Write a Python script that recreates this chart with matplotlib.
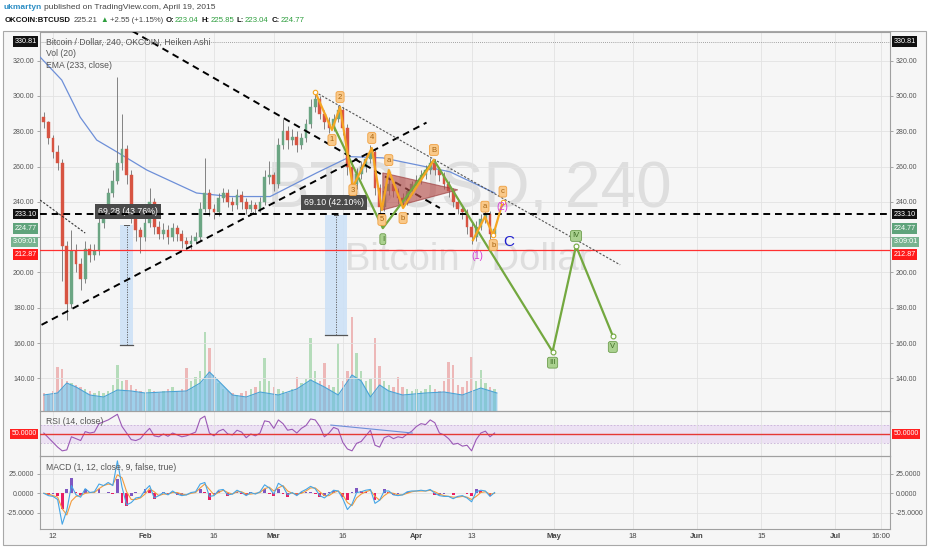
import numpy as np
import matplotlib
matplotlib.use("Agg")
import matplotlib.pyplot as plt
import matplotlib.transforms as mtransforms
from matplotlib.patches import Rectangle, Polygon

plt.rcParams['font.family'] = ['Liberation Sans', 'DejaVu Sans']

W, H = 932, 550
BG = '#f6f6f6'

# ---- data, x = day number (Jan 1 2015 = 0), one bar per day ----
first_day = 9
first_open = 288
close = [285, 276, 268, 262, 215, 182, 212, 205, 196, 213,
         210, 212, 228, 234, 245, 252, 262, 270, 255, 232,
         224, 220, 228, 240, 226, 222, 224, 220, 225, 222,
         218, 216, 218, 220, 236, 245, 236, 234, 242, 245,
         240, 238, 244, 240, 236, 238, 236, 240, 254, 255,
         250, 272, 280, 275, 277, 272, 276, 284, 294, 298,
         290, 285, 282, 287, 292, 282, 260, 250, 256, 260,
         264, 268, 248, 237, 246, 250, 246, 242, 240, 246,
         250, 252, 255, 258, 262, 258, 255, 250, 246, 240,
         236, 234, 226, 220, 226, 230, 233, 222, 224.77]
high = [291, 286, 278, 272, 264, 218, 224, 216, 208, 218,
        216, 216, 231, 237, 248, 258, 311, 290, 272, 258,
        234, 226, 231, 248, 242, 229, 228, 227, 228, 227,
        224, 220, 221, 223, 240, 265, 247, 239, 245, 248,
        247, 243, 247, 246, 242, 241, 240, 243, 258, 263,
        257, 276, 287, 283, 281, 280, 279, 287, 298, 303,
        300, 292, 288, 290, 295, 294, 284, 262, 259, 263,
        267, 272, 270, 250, 249, 254, 252, 248, 245, 248,
        252, 255, 258, 261, 265, 264, 260, 257, 252, 248,
        242, 238, 236, 228, 229, 233, 236, 235, 226]
low = [282, 273, 265, 258, 195, 173, 180, 200, 190, 194,
       206, 207, 210, 225, 232, 243, 250, 258, 250, 228,
       218, 211, 218, 226, 222, 219, 219, 216, 218, 218,
       214, 213, 213, 216, 218, 234, 232, 230, 232, 240,
       237, 235, 236, 236, 233, 234, 233, 234, 238, 250,
       246, 248, 270, 270, 272, 268, 270, 274, 282, 291,
       287, 281, 279, 280, 285, 278, 255, 245, 247, 253,
       257, 262, 244, 233, 235, 244, 243, 239, 237, 238,
       244, 248, 250, 253, 256, 255, 252, 247, 243, 237,
       233, 230, 222, 216, 218, 224, 228, 219, 221]
volume = [18, 16, 20, 44, 42, 30, 28, 26, 24, 22,
          20, 18, 20, 18, 20, 26, 46, 30, 31, 26,
          22, 20, 18, 22, 20, 18, 20, 22, 24, 20,
          22, 43, 30, 34, 40, 79, 63, 36, 28, 22,
          20, 18, 16, 18, 20, 22, 24, 30, 53, 30,
          24, 22, 20, 18, 22, 34, 28, 32, 73, 40,
          30, 48, 26, 24, 68, 30, 40, 94, 58, 40,
          30, 32, 73, 45, 30, 26, 24, 34, 24, 22,
          20, 22, 20, 22, 26, 22, 20, 30, 49, 46,
          26, 24, 30, 54, 30, 41, 28, 24, 22]
rsi = [52, 42, 32, 22, 14, 16, 44, 40, 36, 55,
       52, 54, 72, 76, 80, 86, 92, 66, 52, 38,
       36, 40, 52, 62, 46, 44, 50, 45, 52, 48,
       44, 46, 50, 54, 82, 88, 52, 46, 56, 60,
       50, 48, 58, 54, 42, 50, 46, 52, 78, 76,
       62, 80, 72, 58, 60, 52, 62, 68, 82, 80,
       66, 44, 52, 64, 60, 32, 18, 14, 30, 34,
       46, 58, 26, 22, 42, 46, 40, 44, 42, 50,
       56, 66, 72, 70, 80, 74, 52, 48, 40, 28,
       30, 24, 26, 14, 38, 52, 56, 44, 52]
macd = [0, -3, -4, -8, -40, -22, 10, -2, -5, 6,
        1, 2, 12, 10, 14, 10, 42, 8, -15, -12,
        -6, -5, 4, 10, -6, -3, 1, -2, 3, -1,
        -3, -2, 1, 2, 12, 14, -4, -3, 4, 5,
        -2, -1, 4, 1, -3, 1, -1, 2, 11, 7,
        -1, 13, 9, -2, 1, -3, 2, 5, 9, 6,
        -3, -6, -1, 4, 3, -7, -21, -14, 1, 2,
        4, 5, -13, -9, 3, 3, -2, -3, -2, 2,
        3, 3, 4, 3, 5, 0, -3, -4, -4, -7,
        -4, -3, -6, -11, 2, 4, 3, -4, 1]
signal = [0, -1, -3, -5, -20, -28, -10, -4, -3, 0,
          1, 1, 6, 10, 12, 11, 24, 20, 2, -8,
          -8, -6, -1, 6, 2, -3, -1, -1, 1, 1,
          -1, -2, 0, 1, 7, 12, 5, -2, 1, 4,
          1, -1, 2, 2, -1, -1, 0, 1, 6, 8,
          3, 7, 10, 3, 0, -1, 0, 3, 7, 7,
          2, -3, -3, 1, 3, -2, -12, -16, -6, -1,
          2, 4, -4, -9, -3, 1, 0, -2, -2, 0,
          2, 3, 3, 3, 4, 2, -1, -3, -4, -5,
          -5, -4, -5, -8, -4, 1, 2, -1, 0]

ema_days = [8.2, 12.9, 16.9, 20.5, 24.8, 31.4, 42.2, 49.5, 58.2, 61.0, 68.3, 75.6, 82.7, 90.0, 97.3, 107.0]
ema_vals = [322, 309, 288, 275, 268.4, 258, 245, 243, 243, 246.7, 256.4, 265.6, 264.9, 261, 257, 245]
volma_days = [9, 12, 14, 16, 19, 22, 25, 28, 31, 35, 40, 43, 45, 47, 50, 53, 56, 60, 64, 67, 70,
              73, 76, 78, 80, 82, 84, 87, 92, 96, 100, 104, 107.5]
volma_vals = [16, 18, 28, 24, 16, 14, 21, 20, 18, 19, 20, 28, 39, 30, 16, 14, 19, 16, 22, 31, 24,
              16, 36, 30, 14, 26, 20, 16, 18, 19, 16, 23, 18]

tick_days = [11, 31, 46, 59, 74, 90, 102, 120, 137, 151, 165, 181, 191]
tick_labels = ['12', 'Feb', '16', 'Mar', '16', 'Apr', '13', 'May', '18', 'Jun', '15', 'Jul', '16:00']
price_ticks = [140, 160, 180, 200, 220, 240, 260, 280, 300, 320]
hidden_ticks = [220]   # covered by the price tags on the axes
macd_ticks = [-25, 0, 25]

# drawings
wave1_days = [68.0, 71.65, 73.4, 76.2, 80.3, 82.5, 84.0, 87.1, 93.8]
wave1_prices = [302.2, 280.7, 293.7, 248.4, 270.5, 235.4, 258.0, 236.5, 263.7]
wave1_labels = ['', '1', '2', '3', '4', '5', 'a', 'b', 'B']
wave2_days = [102.3, 104.9, 106.7, 108.8]
wave2_prices = [218.3, 231.6, 221.2, 240.1]
wave2_labels = ['', 'a', 'b', 'c']
green_days = [71.9, 82.7, 93.8, 119.6, 124.7, 132.7]
green_prices = [283.6, 225.1, 263.7, 155.1, 215.0, 164.0]
green_labels = ['', 'I', '', 'III', 'IV', 'V']
triangle_days = [82.7, 99.0, 82.7]
triangle_prices = [256.4, 246.8, 235.4]
trend_down = ([28.2, 95.1], [336.8, 236.5])
trend_up = ([8.5, 92.2], [170.3, 284.9])
trend_small = ([8.2, 18.0], [241.0, 222.3])
trend_thin = ([68.0, 134.3], [302.2, 204.3])
level_black = 233.10
level_red = 212.87
level_top = 330.81
last_price = 224.77
rsi_trend = ([71.4, 89.1], [69, 52])
measures = [((25.6, 28.4), (159.0, 227.0), (27.2, 234.6), '69.28 (43.76%)'),
            ((70.1, 74.9), (164.6, 232.6), (72.1, 239.4), '69.10 (42.10%)')]


def fig_box(l, t, r, b):
    return [l / W, 1 - b / H, (r - l) / W, (b - t) / H]


fig = plt.figure(figsize=(W / 100, H / 100), dpi=100, facecolor='white')
fig.add_artist(Rectangle((3 / W, 1 - 545 / H), 923 / W, 514 / H, transform=fig.transFigure,
                         fc=BG, ec='#a8a8a8', lw=0.8, zorder=-10))

ax = fig.add_axes(fig_box(40, 31.5, 890, 411))
ax_vol = ax.twinx()
ax.set_zorder(2)
ax_vol.set_zorder(1)
ax.patch.set_visible(False)
ax_vol.patch.set_visible(False)
ax_rsi = fig.add_axes(fig_box(40, 411, 890, 456), sharex=ax)
ax_macd = fig.add_axes(fig_box(40, 456, 890, 529), sharex=ax)
for a in (ax_rsi, ax_macd):
    a.set_facecolor('none')

ax.set_xlim(8.17, 192.96)
ax.set_ylim(121.5, 336.5)
ax_vol.set_ylim(0, 379.5)
ax_rsi.set_ylim(3, 99)
ax_macd.set_ylim(-46.2, 48.3)

days = np.arange(first_day, first_day + len(close))
c = np.array(close, dtype=float)
o = np.array([first_open] + close[:-1], dtype=float)
up = c >= o
cols = np.where(up, '#6ba583', '#d75442')

# watermark
ax_vol.text(469 / W, 1 - 190 / H, 'BTCUSD, 240', transform=fig.transFigure, ha='center', va='center',
            fontsize=46, color='#dedede', zorder=0)
ax_vol.text(468 / W, 1 - 260 / H, 'Bitcoin / Dollar', transform=fig.transFigure, ha='center', va='center',
            fontsize=27.5, color='#dedede', zorder=0)

# volume + its moving average
ax_vol.bar(days, volume, width=0.55, color=np.where(up, '#9fd4a6', '#eaa3a3'), alpha=0.75, zorder=1)
ax_vol.fill_between(volma_days, volma_vals, color='#6fbde6', alpha=0.65, lw=0, zorder=2)
ax_vol.plot(volma_days, volma_vals, color='#4aa3d6', lw=0.8, zorder=2)
ax_vol.set_yticks([])
ax_vol.tick_params(right=False, labelright=False)
for s in ax_vol.spines.values():
    s.set_visible(False)

# grid
for a in (ax, ax_rsi, ax_macd):
    a.set_axisbelow(True)
    a.grid(True, axis='x', color='#e2e2e2', lw=0.6)
    for s in a.spines.values():
        s.set_color('#a0a0a0')
        s.set_linewidth(0.8)
ax.grid(True, axis='y', color='#e2e2e2', lw=0.6)
ax_macd.grid(True, axis='y', color='#e2e2e2', lw=0.6)

# measure tools
for (d0, d1), (p0, p1), (lx, ly), txt in measures:
    ax.add_patch(Rectangle((d0, p0), d1 - d0, p1 - p0, fc='#cde1f6', ec='none', alpha=0.9, zorder=1.5))
    mid = (d0 + d1) / 2
    ax.plot([mid, mid], [p0, p1], color='#555555', lw=0.6, ls=(0, (1.5, 1.5)), zorder=1.6)
    ax.plot([d0, d1], [p0, p0], color='#555555', lw=0.9, zorder=1.6)
    ax.plot([mid - 0.5, mid + 0.5], [p1, p1], color='#555555', lw=0.7, zorder=1.6)
    ax.text(lx, ly, txt, ha='center', va='center', fontsize=6.3, color='white', zorder=3.6,
            bbox=dict(boxstyle='square,pad=0.35', fc='#4a4a4a', ec='none'))

# EMA
ax.plot(ema_days, ema_vals, color='#6d8fd8', lw=0.9, zorder=2.8)

# candles (Heiken Ashi look)
ax.vlines(days, low, high, colors='#707070', lw=0.6, zorder=3)
ax.bar(days, np.maximum(np.abs(c - o), 0.7), bottom=np.minimum(o, c), width=0.62,
       color=cols, edgecolor=cols, lw=0.3, zorder=3.1)

# levels and trend lines
ax.axhline(level_top, color='#888888', lw=0.6, ls=(0, (1, 1.5)), zorder=2)
ax.axhline(level_red, color='#ff3030', lw=0.9, zorder=4)
ax.axhline(level_black, color='black', lw=1.4, ls=(0, (3.5, 2.5)), zorder=4)
for xs, ys in (trend_down, trend_up):
    ax.plot(xs, ys, color='black', lw=1.4, ls=(0, (3.5, 2.5)), zorder=4)
ax.plot(*trend_small, color='#333333', lw=0.8, ls=(0, (2, 1.5)), zorder=4)
ax.plot(*trend_thin, color='#555555', lw=0.8, ls=(0, (2, 1.5)), zorder=4)

ax.add_patch(Polygon(list(zip(triangle_days, triangle_prices)), closed=True, fc='#b5504c',
                     ec='#9b3b3b', lw=0.8, alpha=0.65, zorder=4.5))

ORANGE = '#f5a623'
GREEN = '#73a83f'


def wave_label(d, p, s, fc, ec, tc, dy):
    ax.annotate(s, (d, p), xytext=(0, dy), textcoords='offset pixels', ha='center', va='center',
                fontsize=5.5, color=tc, zorder=8,
                bbox=dict(boxstyle='round,pad=0.25', fc=fc, ec=ec, lw=0.6))


ax.plot(green_days, green_prices, color=GREEN, lw=1.6, zorder=5)
ax.plot(green_days[3:], green_prices[3:], 'o', ms=3.5, mfc='white', mec=GREEN, mew=0.8, zorder=6)
ax.plot(wave1_days, wave1_prices, color=ORANGE, lw=1.6, zorder=5.5)
ax.plot(wave2_days, wave2_prices, color=ORANGE, lw=1.6, zorder=5.5)
ax.plot([wave1_days[0], wave2_days[2], wave2_days[3]], [wave1_prices[0], wave2_prices[2], wave2_prices[3]],
        'o', ms=3.2, mfc='white', mec=ORANGE, mew=0.8, zorder=6)

for i, (d, p, s) in enumerate(zip(wave1_days, wave1_prices, wave1_labels)):
    if s:
        dy = 10 if i in (2, 4, 6, 8) else -10
        if s == '3':
            dy = -3
        wave_label(d, p, s, '#f9c98a', '#f0a040', '#a86410', dy)
for i, (d, p, s) in enumerate(zip(wave2_days, wave2_prices, wave2_labels)):
    if s:
        dy = -10 if s == 'b' else 10
        wave_label(d, p, s, '#f9c98a', '#f0a040', '#a86410', dy)
for i, (d, p, s) in enumerate(zip(green_days, green_prices, green_labels)):
    if s:
        dy = 10 if s == 'IV' else -11
        wave_label(d, p, s, '#aad18f', '#6f9f50', '#3d6b24', dy)

ax.text(103.3, 209.5, '(1)', color='#d63ad6', fontsize=7, ha='center', va='center', zorder=8)
ax.text(108.6, 237.0, '(2)', color='#d63ad6', fontsize=7, ha='center', va='center', zorder=8)
ax.text(110.0, 217.0, 'C', color='#1f1fcf', fontsize=11, ha='center', va='center', zorder=8)

# axis ticks
ax.set_yticks(price_ticks)
ax.set_yticklabels(['' if v in hidden_ticks else f'{v:.2f}' for v in price_ticks])
ax_macd.set_yticks(macd_ticks)
ax_macd.set_yticklabels([f'{v:.4f}' for v in macd_ticks])
ax_rsi.set_yticks([])
for a in (ax, ax_macd):
    a.tick_params(axis='y', left=True, right=True, labelleft=True, labelright=True, labelsize=5,
                  labelcolor='#555555', color='#999999', length=2.5, width=0.6, pad=1.5)
for a in (ax, ax_rsi):
    a.tick_params(axis='x', bottom=False, labelbottom=False)
ax_macd.set_xticks(tick_days)
ax_macd.set_xticklabels(tick_labels)
ax_macd.tick_params(axis='x', labelsize=5.5, labelcolor='#444444', length=0, pad=3)
for lbl in ax_macd.get_xticklabels():
    if lbl.get_text() in ('Feb', 'Mar', 'Apr', 'May', 'Jun', 'Jul'):
        lbl.set_fontweight('bold')


def tag(a, y, s, fc, fs=5.2):
    tr = mtransforms.blended_transform_factory(a.transAxes, a.transData)
    for x, ha in ((-0.004, 'right'), (1.004, 'left')):
        a.text(x, y, s, transform=tr, ha=ha, va='center', fontsize=fs, color='white', zorder=10,
               clip_on=False, bbox=dict(boxstyle='square,pad=0.25', fc=fc, ec='none'))


tag(ax, level_top, f'{level_top:.2f}', '#111111')
tag(ax, level_black, f'{level_black:.2f}', '#111111')
tag(ax, last_price, f'{last_price:.2f}', '#5fa37b')
tag(ax, 217.3, '3:09:01', '#78b390')
tag(ax, 210.3, f'{level_red:.2f}', '#ff1a1a')

# RSI pane
ax_rsi.axhspan(30, 70, color='#eadcf3', alpha=0.8, lw=0, zorder=0)
for v in (30, 70):
    ax_rsi.axhline(v, color='#c8b0d8', lw=0.6, ls=(0, (2, 2)), zorder=0.5)
ax_rsi.plot(days, rsi, color='#9b59b6', lw=0.8, zorder=2)
ax_rsi.axhline(50, color='#e53935', lw=1.0, zorder=3)
ax_rsi.plot(*rsi_trend, color='#6d8fd8', lw=0.8, zorder=3)
tag(ax_rsi, 50, '50.0000', '#ff2020', fs=5)

# MACD pane
m = np.array(macd, dtype=float)
sg = np.array(signal, dtype=float)
hist = m - sg
hcols = np.where(np.diff(np.r_[0, hist]) >= 0, '#7e57c2', '#e91e63')
ax_macd.bar(days, hist, width=0.6, color=hcols, zorder=2)
ax_macd.plot(days, signal, color='#f39c3d', lw=0.8, zorder=3)
ax_macd.plot(days, macd, color='#45a5e6', lw=0.8, zorder=3)

# pane captions
ax.text(46 / W, 1 - 42 / H, 'Bitcoin / Dollar, 240, OKCOIN, Heiken Ashi', transform=fig.transFigure,
        fontsize=6.2, color='#555555', va='center', zorder=9)
ax.text(46 / W, 1 - 54 / H, 'Vol (20)', transform=fig.transFigure, fontsize=6.2, color='#555555',
        va='center', zorder=9)
ax.text(46 / W, 1 - 66 / H, 'EMA (233, close)', transform=fig.transFigure, fontsize=6.2, color='#555555',
        va='center', zorder=9)
fig.text(46 / W, 1 - 422 / H, 'RSI (14, close)', fontsize=6.2, color='#555555', va='center')
fig.text(46 / W, 1 - 467 / H, 'MACD (1, 12, close, 9, false, true)', fontsize=6.2, color='#555555',
         va='center')

# header
renderer = fig.canvas.get_renderer()


def chain(x, y, parts, fs):
    for s, color, weight, gap in parts:
        t = fig.text(x / W, 1 - y / H, s, color=color, fontsize=fs, fontweight=weight, va='center')
        x = t.get_window_extent(renderer).x1 + gap


GRN = '#2e9e3e'
chain(4, 7.5, [('ukmartyn', '#2b8dc4', 'bold', 2),
               ('published on TradingView.com, April 19, 2015', '#444444', 'normal', 0)], 6.0)
chain(5, 21, [('OKCOIN:BTCUSD', '#111111', 'bold', 3), ('225.21', '#444444', 'normal', 2.5),
              ('\u25b2', GRN, 'normal', 1.5), ('+2.55 (+1.15%)', '#444444', 'normal', 2.5),
              ('O:', '#111111', 'bold', 1), ('223.04', GRN, 'normal', 2.5),
              ('H:', '#111111', 'bold', 1), ('225.85', GRN, 'normal', 2.5),
              ('L:', '#111111', 'bold', 1), ('223.04', GRN, 'normal', 2.5),
              ('C:', '#111111', 'bold', 1), ('224.77', GRN, 'normal', 0)], 5.6)

fig.savefig('out.png', dpi=100, facecolor='white')
